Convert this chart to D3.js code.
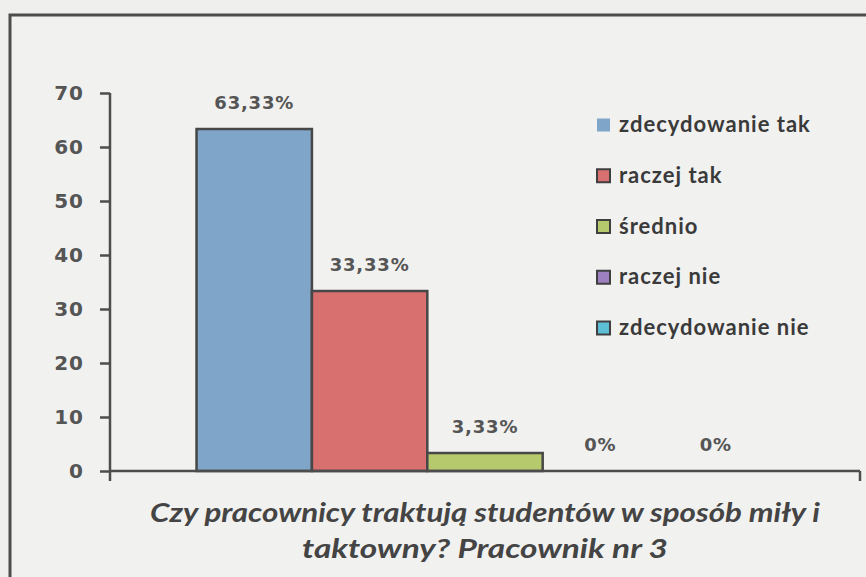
<!DOCTYPE html>
<html><head><meta charset="utf-8">
<script src="https://cdn.jsdelivr.net/npm/d3@7"></script>
<style>html,body{margin:0;padding:0;background:#efefee;}svg{display:block;}</style>
</head><body>
<svg id="c" width="866" height="577"></svg>
<script>
const series = ["zdecydowanie tak","raczej tak","średnio","raczej nie","zdecydowanie nie"];
const values = [63.33, 33.33, 3.33, 0, 0];
const valueLabels = ["63,33%","33,33%","3,33%","0%","0%"];
const colors = ["#7fa6c8","#d7706f","#b6c96c","#9c80c0","#5dbfd6"];
const yTicks = [0,10,20,30,40,50,60,70];
const titleLines = ["Czy pracownicy traktują studentów w sposób miły i","taktowny? Pracownik nr 3"];

(function(){
const svg = d3.select("#c");
const W = 866, H = 577;
svg.append("rect").attr("width",W).attr("height",H).attr("fill","#efefee");
// frame
svg.append("rect").attr("x",10).attr("y",15).attr("width",W).attr("height",H)
  .attr("fill","#f1f1f0").attr("stroke","#4d4d4d").attr("stroke-width",3);

const pLeft = 110, pRight = 860, pTop = 93, pBottom = 471;
const y = d3.scaleLinear().domain([0,70]).range([pBottom, pTop]);
const x = d3.scaleBand().domain(series).range([pLeft, pRight]).paddingInner(0).paddingOuter(0.75);

// y axis
const ya = svg.append("g").attr("transform",`translate(${pLeft},0)`)
  .call(d3.axisLeft(y).tickValues(yTicks).tickSize(10).tickPadding(16).tickSizeOuter(0));
ya.select(".domain").remove();
ya.selectAll(".tick line").attr("stroke","#4d4d4d").attr("stroke-width",2.5);
ya.selectAll(".tick text").attr("font-family","DejaVu Sans").attr("font-weight","bold")
  .attr("font-size",20).attr("letter-spacing",1).attr("fill","#555");
svg.append("line").attr("x1",pLeft).attr("x2",pLeft).attr("y1",pTop).attr("y2",pBottom+10)
  .attr("stroke","#4d4d4d").attr("stroke-width",2.5);

// bars
svg.append("g").selectAll("rect").data(series).join("rect")
  .attr("x",d=>x(d)).attr("width",x.bandwidth())
  .attr("y",(d,i)=>y(values[i])).attr("height",(d,i)=>y(0)-y(values[i]))
  .attr("fill",(d,i)=>colors[i]).attr("stroke","#474747").attr("stroke-width",2.5);

// x axis
svg.append("line").attr("x1",pLeft).attr("x2",pRight).attr("y1",y(0)).attr("y2",y(0))
  .attr("stroke","#4d4d4d").attr("stroke-width",2.5);
svg.append("line").attr("x1",pRight).attr("x2",pRight).attr("y1",y(0)).attr("y2",y(0)+10)
  .attr("stroke","#4d4d4d").attr("stroke-width",2.5);

// value labels
svg.append("g").selectAll("text").data(series).join("text")
  .attr("x",d=>x(d)+x.bandwidth()/2).attr("y",(d,i)=>y(values[i])-20)
  .attr("text-anchor","middle").attr("font-family","DejaVu Sans").attr("font-weight","bold")
  .attr("font-size",18).attr("letter-spacing",0.8).attr("fill","#555").text((d,i)=>valueLabels[i]);

// legend
const lg = svg.append("g");
const rowY = d3.scalePoint().domain(series).range([125, 328]);
series.forEach((s,i)=>{
  const cy = rowY(s);
  lg.append("rect").attr("x",597).attr("y",cy-6.5).attr("width",13).attr("height",13)
    .attr("fill",colors[i]).attr("stroke", i===0 ? "none" : "#3f3f3f").attr("stroke-width",2);
  lg.append("text").attr("x",619).attr("y",cy+7).attr("font-family","Lato").attr("font-weight","bold")
    .attr("font-size",22).attr("fill","#3a3a3a").attr("letter-spacing",1).text(s);
});

// title
const tWidths = [670, 366];
svg.append("g").selectAll("text").data(titleLines).join("text")
  .attr("x",485).attr("y",(d,i)=>522+i*36).attr("text-anchor","middle")
  .attr("font-family","Lato").attr("font-weight","bold").attr("font-style","italic")
  .attr("font-size",27).attr("fill","#444")
  .attr("textLength",(d,i)=>tWidths[i]).attr("lengthAdjust","spacingAndGlyphs").text(d=>d);
})();
</script>
</body></html>
